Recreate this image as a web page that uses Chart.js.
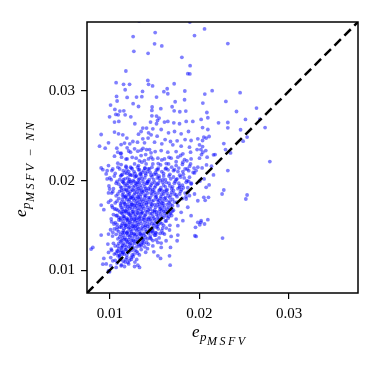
<!DOCTYPE html>
<html>
<head>
<meta charset="utf-8">
<script src="https://cdn.jsdelivr.net/npm/chart.js@4.4.1/dist/chart.umd.min.js"></script>
<style>
  html, body { margin: 0; padding: 0; background: #fff; }
  #wrap { width: 382px; height: 365px; }
</style>
</head>
<body>
<div id="wrap"><canvas id="scatter"></canvas></div>
<script>
// same limits on both axes, so the y = x reference runs corner to corner
const axisLimits = [0.00745, 0.0377];
const tickValues = [0.01, 0.02, 0.03];

// [e_p MSFV, e_p MSFV-NN] pairs
const upperTail = [
  [0.01327,0.0378],[0.01893,0.0377],[0.02057,0.03693],[0.01506,0.03652],[0.0126,0.03607],[0.01945,0.03618],
  [0.01499,0.03526],[0.0158,0.03503],[0.01268,0.03443],[0.01427,0.0342],[0.01804,0.03376],[0.01896,0.03283],
  [0.0187,0.03193],[0.01893,0.0319],[0.01179,0.03223],[0.01424,0.03118],[0.0107,0.03093],[0.01153,0.03074],
  [0.0122,0.03074],[0.01432,0.03074],[0.01477,0.03056],[0.0164,0.03025],[0.01603,0.02992],[0.01647,0.02969],
  [0.01718,0.03081],[0.01171,0.03014],[0.01837,0.03],[0.0206,0.02966],[0.02142,0.03003],[0.01008,0.02843],
  [0.01075,0.02939],[0.01081,0.02888],[0.01193,0.02928],[0.01298,0.02932],[0.01357,0.02936],[0.01365,0.02995],
  [0.01521,0.02932],[0.0126,0.02858],[0.0132,0.02827],[0.01472,0.02821],[0.01569,0.02802],[0.01695,0.02824],
  [0.01729,0.0288],[0.01834,0.02902],[0.02038,0.02865],[0.01056,0.02794],[0.01112,0.02776],[0.01156,0.02779],
  [0.00997,0.02712],[0.01067,0.02738],[0.01093,0.02734],[0.01234,0.02712],[0.01469,0.02723],[0.01521,0.0272],
  [0.0155,0.02698],[0.01532,0.02671],[0.01718,0.02779],[0.01781,0.02768],[0.01848,0.02776],[0.02083,0.0276],
  [0.02094,0.02701],[0.02213,0.02645],[0.00903,0.02514],[0.02317,0.03529],[0.02454,0.02981],[0.02295,0.02883],
  [0.02414,0.02771],[0.02637,0.02809],[0.02317,0.02648],[0.02317,0.02589],[0.02514,0.02682],[0.02674,0.02686],
  [0.02733,0.02592],[0.02035,0.02592],[0.02049,0.02485],[0.02035,0.02447],[0.02108,0.02492],[0.02459,0.02567],
  [0.02532,0.02485],[0.02488,0.0244],[0.02272,0.02413],[0.02291,0.02346],[0.02035,0.0238],[0.02071,0.02335],
  [0.02016,0.02346]
];

const midBand = [
  [0.01171,0.02734],[0.01052,0.02653],[0.011,0.0266],[0.01279,0.02634],[0.01368,0.02586],[0.0141,0.02586],
  [0.01349,0.02548],[0.0132,0.02518],[0.01432,0.02533],[0.01052,0.02541],[0.01097,0.02522],[0.01145,0.02511],
  [0.0119,0.02474],[0.01164,0.02418],[0.01126,0.02402],[0.01223,0.0241],[0.01257,0.02436],[0.01309,0.02429],
  [0.01368,0.02466],[0.01387,0.02421],[0.01427,0.02474],[0.00985,0.02421],[0.00885,0.02384],[0.00948,0.02362],
  [0.01078,0.02362],[0.01193,0.02365],[0.01276,0.02354],[0.01089,0.02317],[0.01126,0.02306],[0.01231,0.02317],
  [0.01312,0.02328],[0.01349,0.02339],[0.0141,0.02346],[0.01052,0.02272],[0.01131,0.02261],[0.01193,0.02242],
  [0.01294,0.0225],[0.01349,0.02279],[0.01387,0.02223],[0.01432,0.02242],[0.00903,0.02141],[0.00985,0.02167],
  [0.01033,0.0213],[0.01089,0.02194],[0.01126,0.02178],[0.01182,0.02149],[0.01231,0.02149],[0.01276,0.02186],
  [0.0132,0.02167],[0.01357,0.02205],[0.01405,0.02186],[0.01331,0.02122],[0.01394,0.02138],
  [0.01469,0.02783],[0.01454,0.02653],[0.01521,0.02634],[0.0161,0.02653],[0.01647,0.0266],[0.01714,0.02645],
  [0.01778,0.02634],[0.01852,0.0266],[0.01926,0.0266],[0.02019,0.02682],[0.0148,0.02578],[0.01573,0.0257],
  [0.01655,0.02533],[0.01722,0.02548],[0.01796,0.02522],[0.01878,0.02548],[0.02094,0.0257],[0.01461,0.02511],
  [0.01528,0.02496],[0.01617,0.02458],[0.01677,0.02436],[0.01751,0.02444],[0.0184,0.02458],[0.01907,0.02447],
  [0.01982,0.02466],[0.02075,0.02474],[0.01499,0.02429],[0.0158,0.0241],[0.01703,0.02399],[0.01796,0.02384],
  [0.01889,0.02373],[0.02001,0.02399],[0.01443,0.02346],[0.01506,0.02324],[0.01573,0.02335],[0.01647,0.02317],
  [0.0174,0.02324],[0.01815,0.02298],[0.01901,0.02317],[0.01974,0.02346],[0.02038,0.02317],[0.01461,0.02261],
  [0.01536,0.0225],[0.0161,0.02242],[0.01684,0.0225],[0.01759,0.02261],[0.01834,0.02234],[0.01907,0.02242],
  [0.02001,0.0225],[0.02086,0.02261],[0.0148,0.02186],[0.01566,0.02175],[0.01655,0.02186],[0.0174,0.02167],
  [0.01815,0.02205],[0.01901,0.02186],[0.01982,0.02149],[0.01443,0.0213],[0.01536,0.02122],[0.01628,0.02138],
  [0.01722,0.02122],[0.01863,0.0213],[0.01963,0.02111],[0.02023,0.0229],[0.02157,0.02287],[0.02175,0.0229],
  [0.02347,0.02309],[0.02079,0.02175],[0.02135,0.0216],[0.0203,0.02141],[0.02786,0.02212],[0.02317,0.02111]
];

const denseCore = [
  [0.0097,0.0211],[0.0106,0.0208],[0.0111,0.0213],[0.0113,0.0206],[0.0117,0.0209],[0.0119,0.0212],[0.0122,0.0207],
  [0.0124,0.0214],[0.0127,0.0210],[0.0129,0.0205],[0.0132,0.0212],[0.0134,0.0208],[0.0138,0.0211],[0.0140,0.0206],
  [0.0143,0.0213],[0.0145,0.0209],[0.0149,0.0207],[0.0152,0.0212],[0.0155,0.0205],[0.0158,0.0210],[0.0162,0.0213],
  [0.0167,0.0207],[0.0171,0.0211],[0.0178,0.0206],[0.0184,0.0213],[0.0193,0.0209],
  [0.0100,0.0203],[0.0108,0.0199],[0.0112,0.0205],[0.0115,0.0201],[0.0116,0.0197],[0.0120,0.0203],[0.0121,0.0199],
  [0.0123,0.0206],[0.0126,0.0200],[0.0128,0.0204],[0.0131,0.0198],[0.0133,0.0202],[0.0135,0.0205],[0.0137,0.0199],
  [0.0139,0.0203],[0.0142,0.0197],[0.0144,0.0201],[0.0147,0.0204],[0.0150,0.0198],[0.0153,0.0203],[0.0156,0.0200],
  [0.0160,0.0205],[0.0163,0.0198],[0.0168,0.0202],[0.0173,0.0199],[0.0179,0.0204],[0.0186,0.0200],[0.0191,0.0197],
  [0.0099,0.0194],[0.0104,0.0191],[0.0110,0.0196],[0.0113,0.0192],[0.0115,0.0198],[0.0118,0.0190],[0.0119,0.0195],
  [0.0122,0.0193],[0.0124,0.0197],[0.0125,0.0190],[0.0128,0.0194],[0.0130,0.0196],[0.0132,0.0191],[0.0134,0.0195],
  [0.0136,0.0189],[0.0139,0.0193],[0.0141,0.0197],[0.0143,0.0191],[0.0146,0.0195],[0.0148,0.0190],[0.0151,0.0194],
  [0.0154,0.0197],[0.0157,0.0192],[0.0160,0.0195],[0.0164,0.0190],[0.0167,0.0194],[0.0172,0.0197],[0.0176,0.0191],
  [0.0181,0.0195],[0.0187,0.0192],
  [0.0102,0.0186],[0.0107,0.0183],[0.0111,0.0188],[0.0114,0.0184],[0.0116,0.0190],[0.0117,0.0182],[0.0120,0.0187],
  [0.0122,0.0185],[0.0124,0.0181],[0.0126,0.0189],[0.0127,0.0184],[0.0130,0.0187],[0.0131,0.0182],[0.0133,0.0189],
  [0.0135,0.0185],[0.0138,0.0188],[0.0140,0.0183],[0.0142,0.0186],[0.0145,0.0190],[0.0147,0.0184],[0.0150,0.0187],
  [0.0152,0.0182],[0.0155,0.0189],[0.0158,0.0185],[0.0161,0.0188],[0.0165,0.0183],[0.0169,0.0187],[0.0174,0.0184],
  [0.0179,0.0188],[0.0185,0.0182],
  [0.0101,0.0178],[0.0106,0.0175],[0.0110,0.0180],[0.0113,0.0176],[0.0115,0.0182],[0.0117,0.0174],[0.0119,0.0179],
  [0.0121,0.0177],[0.0123,0.0181],[0.0125,0.0173],[0.0127,0.0178],[0.0129,0.0180],[0.0131,0.0175],[0.0133,0.0179],
  [0.0135,0.0173],[0.0137,0.0177],[0.0139,0.0181],[0.0141,0.0175],[0.0144,0.0179],[0.0146,0.0174],[0.0149,0.0178],
  [0.0151,0.0181],[0.0154,0.0176],[0.0157,0.0180],[0.0160,0.0174],[0.0163,0.0178],[0.0166,0.0175],[0.0170,0.0179],
  [0.0175,0.0176],[0.0181,0.0180],
  [0.0103,0.0170],[0.0109,0.0167],[0.0112,0.0172],[0.0114,0.0168],[0.0116,0.0174],[0.0118,0.0166],[0.0120,0.0171],
  [0.0122,0.0169],[0.0124,0.0173],[0.0126,0.0165],[0.0128,0.0170],[0.0130,0.0172],[0.0132,0.0167],[0.0134,0.0171],
  [0.0136,0.0165],[0.0138,0.0169],[0.0141,0.0173],[0.0143,0.0167],[0.0146,0.0171],[0.0148,0.0166],[0.0151,0.0170],
  [0.0153,0.0173],[0.0156,0.0168],[0.0159,0.0172],[0.0162,0.0166],[0.0166,0.0170],[0.0171,0.0167],[0.0176,0.0172],
  [0.0104,0.0162],[0.0110,0.0159],[0.0113,0.0164],[0.0115,0.0160],[0.0117,0.0166],[0.0119,0.0158],[0.0121,0.0163],
  [0.0123,0.0161],[0.0125,0.0165],[0.0127,0.0157],[0.0129,0.0162],[0.0131,0.0164],[0.0133,0.0159],[0.0135,0.0163],
  [0.0137,0.0157],[0.0139,0.0161],[0.0142,0.0165],[0.0144,0.0159],[0.0147,0.0163],[0.0149,0.0158],[0.0152,0.0162],
  [0.0155,0.0165],[0.0158,0.0160],[0.0161,0.0163],[0.0165,0.0158],[0.0169,0.0161],[0.0174,0.0157],
  [0.0102,0.0154],[0.0108,0.0151],[0.0112,0.0156],[0.0114,0.0152],[0.0116,0.0158],[0.0118,0.0150],[0.0120,0.0155],
  [0.0122,0.0153],[0.0124,0.0157],[0.0126,0.0149],[0.0128,0.0154],[0.0130,0.0156],[0.0132,0.0151],[0.0134,0.0155],
  [0.0137,0.0149],[0.0139,0.0153],[0.0141,0.0157],[0.0144,0.0151],[0.0146,0.0155],[0.0149,0.0150],[0.0152,0.0154],
  [0.0155,0.0157],[0.0158,0.0152],[0.0162,0.0155],[0.0167,0.0150],
  [0.0105,0.0146],[0.0110,0.0143],[0.0113,0.0148],[0.0115,0.0144],[0.0117,0.0150],[0.0119,0.0142],[0.0121,0.0147],
  [0.0123,0.0145],[0.0125,0.0149],[0.0127,0.0141],[0.0129,0.0146],[0.0131,0.0148],[0.0133,0.0143],[0.0135,0.0147],
  [0.0138,0.0141],[0.0140,0.0145],[0.0142,0.0149],[0.0145,0.0143],[0.0148,0.0147],[0.0151,0.0142],[0.0154,0.0146],
  [0.0158,0.0144],[0.0163,0.0147],
  [0.0103,0.0138],[0.0109,0.0135],[0.0112,0.0140],[0.0114,0.0136],[0.0116,0.0142],[0.0118,0.0134],[0.0120,0.0139],
  [0.0122,0.0137],[0.0124,0.0141],[0.0126,0.0133],[0.0128,0.0138],[0.0130,0.0140],[0.0133,0.0135],[0.0135,0.0139],
  [0.0137,0.0133],[0.0140,0.0137],[0.0143,0.0141],[0.0146,0.0135],[0.0150,0.0139],[0.0155,0.0136],
  [0.0104,0.0130],[0.0109,0.0127],[0.0112,0.0132],[0.0114,0.0128],[0.0116,0.0134],[0.0118,0.0126],[0.0120,0.0131],
  [0.0122,0.0129],[0.0124,0.0133],[0.0126,0.0125],[0.0128,0.0130],[0.0131,0.0132],[0.0133,0.0127],[0.0136,0.0131],
  [0.0139,0.0126],[0.0143,0.0129],[0.0148,0.0127],
  [0.0102,0.0122],[0.0107,0.0119],[0.0110,0.0124],[0.0112,0.0120],[0.0114,0.0126],[0.0116,0.0118],[0.0118,0.0123],
  [0.0120,0.0121],[0.0123,0.0125],[0.0125,0.0117],[0.0128,0.0122],[0.0131,0.0119],[0.0135,0.0123],[0.0140,0.0120],
  [0.0101,0.0114],[0.0106,0.0111],[0.0109,0.0116],[0.0112,0.0112],[0.0114,0.0118],[0.0117,0.0109],[0.0119,0.0114],
  [0.0122,0.0111],[0.0126,0.0115],[0.0130,0.0112],
  [0.0099,0.0099],[0.0101,0.0105],[0.0107,0.0103],[0.0113,0.0106],[0.0096,0.0107]
];

// second pass over the solid part of the cloud, between the points above
const denseFill = [
  [0.0109,0.0215],[0.0115,0.0211],[0.0118,0.0216],[0.0121,0.0210],[0.0125,0.0213],[0.0128,0.0208],[0.0131,0.0215],
  [0.0136,0.0209],[0.0139,0.0214],[0.0142,0.0210],[0.0147,0.0215],[0.0151,0.0209],[0.0154,0.0214],[0.0160,0.0208],
  [0.0165,0.0212],
  [0.0105,0.0205],[0.0111,0.0201],[0.0114,0.0207],[0.0117,0.0202],[0.0119,0.0208],[0.0122,0.0201],[0.0125,0.0206],
  [0.0127,0.0199],[0.0130,0.0205],[0.0132,0.0201],[0.0134,0.0207],[0.0136,0.0202],[0.0140,0.0208],[0.0143,0.0199],
  [0.0146,0.0206],[0.0149,0.0201],[0.0152,0.0207],[0.0155,0.0203],[0.0159,0.0201],[0.0166,0.0205],[0.0175,0.0202],
  [0.0107,0.0197],[0.0112,0.0193],[0.0114,0.0199],[0.0117,0.0194],[0.0120,0.0197],[0.0121,0.0192],[0.0123,0.0199],
  [0.0126,0.0193],[0.0129,0.0197],[0.0131,0.0193],[0.0133,0.0198],[0.0135,0.0192],[0.0138,0.0196],[0.0140,0.0191],
  [0.0142,0.0199],[0.0145,0.0193],[0.0147,0.0197],[0.0150,0.0192],[0.0153,0.0196],[0.0156,0.0190],[0.0159,0.0198],
  [0.0162,0.0193],[0.0169,0.0191],[0.0178,0.0194],
  [0.0109,0.0185],[0.0113,0.0189],[0.0115,0.0186],[0.0118,0.0183],[0.0119,0.0189],[0.0121,0.0184],[0.0123,0.0188],
  [0.0125,0.0182],[0.0128,0.0186],[0.0129,0.0190],[0.0132,0.0185],[0.0134,0.0182],[0.0136,0.0187],[0.0139,0.0184],
  [0.0141,0.0189],[0.0143,0.0181],[0.0146,0.0186],[0.0148,0.0188],[0.0151,0.0184],[0.0154,0.0186],[0.0157,0.0182],
  [0.0160,0.0185],[0.0163,0.0189],[0.0167,0.0181],[0.0172,0.0185],
  [0.0108,0.0177],[0.0112,0.0174],[0.0114,0.0179],[0.0116,0.0176],[0.0118,0.0181],[0.0120,0.0173],[0.0122,0.0179],
  [0.0124,0.0175],[0.0126,0.0180],[0.0128,0.0174],[0.0130,0.0177],[0.0132,0.0181],[0.0134,0.0176],[0.0136,0.0179],
  [0.0138,0.0174],[0.0140,0.0178],[0.0143,0.0176],[0.0145,0.0181],[0.0147,0.0177],[0.0150,0.0173],[0.0153,0.0179],
  [0.0156,0.0174],[0.0159,0.0177],[0.0162,0.0181],[0.0168,0.0173],
  [0.0107,0.0168],[0.0111,0.0165],[0.0113,0.0170],[0.0115,0.0166],[0.0117,0.0171],[0.0119,0.0168],[0.0121,0.0165],
  [0.0123,0.0171],[0.0125,0.0168],[0.0127,0.0172],[0.0129,0.0166],[0.0131,0.0169],[0.0133,0.0173],[0.0135,0.0168],
  [0.0137,0.0171],[0.0140,0.0166],[0.0142,0.0170],[0.0145,0.0168],[0.0147,0.0173],[0.0150,0.0167],[0.0152,0.0165],
  [0.0155,0.0171],[0.0158,0.0167],[0.0161,0.0170],[0.0168,0.0164],
  [0.0108,0.0161],[0.0112,0.0158],[0.0114,0.0163],[0.0116,0.0160],[0.0118,0.0164],[0.0120,0.0157],[0.0122,0.0162],
  [0.0124,0.0159],[0.0126,0.0163],[0.0128,0.0160],[0.0130,0.0158],[0.0132,0.0163],[0.0134,0.0160],[0.0136,0.0164],
  [0.0138,0.0159],[0.0140,0.0162],[0.0143,0.0157],[0.0145,0.0163],[0.0148,0.0160],[0.0150,0.0165],[0.0153,0.0158],
  [0.0157,0.0163],[0.0163,0.0161],
  [0.0106,0.0153],[0.0110,0.0156],[0.0113,0.0150],[0.0115,0.0155],[0.0117,0.0152],[0.0119,0.0156],[0.0121,0.0151],
  [0.0123,0.0155],[0.0125,0.0152],[0.0127,0.0156],[0.0129,0.0150],[0.0131,0.0153],[0.0133,0.0157],[0.0135,0.0152],
  [0.0138,0.0156],[0.0140,0.0150],[0.0142,0.0154],[0.0145,0.0157],[0.0147,0.0152],[0.0150,0.0156],[0.0154,0.0151],
  [0.0160,0.0150],
  [0.0108,0.0145],[0.0111,0.0148],[0.0114,0.0142],[0.0116,0.0146],[0.0118,0.0148],[0.0120,0.0143],[0.0122,0.0148],
  [0.0124,0.0143],[0.0126,0.0146],[0.0128,0.0149],[0.0130,0.0144],[0.0132,0.0146],[0.0134,0.0141],[0.0136,0.0145],
  [0.0139,0.0148],[0.0141,0.0143],[0.0144,0.0147],[0.0147,0.0144],[0.0152,0.0148],[0.0156,0.0141],
  [0.0107,0.0140],[0.0111,0.0137],[0.0113,0.0133],[0.0115,0.0139],[0.0117,0.0136],[0.0119,0.0141],[0.0121,0.0134],
  [0.0123,0.0139],[0.0125,0.0136],[0.0127,0.0140],[0.0129,0.0134],[0.0131,0.0137],[0.0134,0.0140],[0.0136,0.0136],
  [0.0138,0.0139],[0.0142,0.0135],[0.0145,0.0138],[0.0148,0.0133],
  [0.0106,0.0127],[0.0110,0.0130],[0.0113,0.0125],[0.0115,0.0130],[0.0117,0.0128],[0.0119,0.0132],[0.0121,0.0126],
  [0.0123,0.0130],[0.0125,0.0128],[0.0127,0.0132],[0.0130,0.0126],[0.0132,0.0129],[0.0135,0.0127],[0.0138,0.0130],
  [0.0142,0.0124],
  [0.0105,0.0118],[0.0109,0.0121],[0.0111,0.0116],[0.0113,0.0122],[0.0115,0.0120],[0.0117,0.0123],[0.0119,0.0117],
  [0.0121,0.0120],[0.0124,0.0122],[0.0127,0.0118],[0.0130,0.0121],[0.0133,0.0117],
  [0.0108,0.0108],[0.0111,0.0113],[0.0115,0.0110],[0.0118,0.0112],[0.0121,0.0107],[0.0124,0.0112],[0.0128,0.0109]
];

// right flank of the cloud, reaching out to the dashed line
const rightFlank = [
  [0.0163,0.0219],[0.0169,0.0215],[0.0174,0.0221],[0.0177,0.0214],[0.0181,0.0218],[0.0186,0.0222],[0.0189,0.0216],
  [0.0171,0.0204],[0.0176,0.0210],[0.0182,0.0207],[0.0188,0.0211],[0.0194,0.0214],[0.0158,0.0223],[0.0166,0.0226],
  [0.0179,0.0228],[0.0154,0.0219],[0.0148,0.0224],[0.0140,0.0229],[0.0133,0.0222],[0.0125,0.0226],[0.0118,0.0224],
  [0.0112,0.0230],[0.0121,0.0233],[0.0137,0.0236],[0.0146,0.0231],
  [0.0162,0.0201],[0.0166,0.0197],[0.0170,0.0193],[0.0174,0.0201],[0.0177,0.0197],[0.0180,0.0190],[0.0183,0.0203],
  [0.0184,0.0186],[0.0188,0.0199],[0.0164,0.0186],[0.0171,0.0189],[0.0175,0.0182],[0.0178,0.0185],[0.0182,0.0192],
  [0.0158,0.0189],[0.0168,0.0184],[0.0187,0.0187],
  [0.0155,0.0178],[0.0158,0.0175],[0.0161,0.0180],[0.0164,0.0173],[0.0167,0.0177],[0.0170,0.0172],[0.0172,0.0176],
  [0.0157,0.0169],[0.0160,0.0166],[0.0164,0.0168],[0.0167,0.0163],[0.0170,0.0166],[0.0154,0.0161],[0.0157,0.0157],
  [0.0160,0.0159],[0.0163,0.0155],[0.0166,0.0160],[0.0150,0.0152],[0.0153,0.0149],[0.0156,0.0153],[0.0159,0.0147],
  [0.0148,0.0144],[0.0151,0.0139],[0.0145,0.0136],[0.0141,0.0131],[0.0138,0.0134],[0.0135,0.0129]
];

const leftEdge = [
  [0.00922,0.02122],[0.00959,0.02074],[0.01022,0.02111],[0.0097,0.02018],[0.01015,0.0201],[0.00997,0.01906],
  [0.01033,0.01876],[0.00985,0.01862],[0.00903,0.01727],[0.00933,0.01675],[0.00985,0.01758],[0.01022,0.0172],
  [0.01052,0.01683],[0.0107,0.01608],[0.01015,0.01571],[0.01045,0.01515],[0.01081,0.01478],[0.01008,0.01451]
];

const lowerLeft = [
  [0.00985,0.00992],[0.00997,0.00981],[0.00933,0.01131],[0.00922,0.01067],[0.01033,0.01104],[0.00791,0.01235],
  [0.0081,0.01254],[0.01126,0.01048],[0.01164,0.01041],[0.01201,0.01086],[0.01276,0.01041],[0.01312,0.01056],
  [0.01331,0.0103],[0.01238,0.01142],[0.01108,0.01168],[0.01145,0.01198],[0.01081,0.01216],[0.00985,0.01198],
  [0.01015,0.01235],[0.00903,0.01392],[0.00985,0.01403],[0.01033,0.01422],[0.00978,0.01291]
];

const belowDiagonal = [
  [0.02108,0.01951],[0.02157,0.02063],[0.02272,0.01895],[0.02253,0.0185],[0.02532,0.01839],[0.02518,0.01794],
  [0.02049,0.01813],[0.02064,0.0178],[0.02094,0.01563],[0.02016,0.01534],[0.02004,0.01507],[0.02258,0.01358],
  [0.02052,0.02018],[0.02004,0.01993],[0.01949,0.01384],[0.01956,0.01478],[0.01673,0.01056],
  [0.01852,0.01794],[0.01889,0.01831],[0.01945,0.0185],[0.01982,0.01775],[0.0187,0.01702],[0.01796,0.01646],
  [0.01907,0.01608],[0.01982,0.01534],[0.02019,0.01552],[0.02057,0.01515],[0.01815,0.01552],[0.01759,0.01496],
  [0.02075,0.01925],[0.02101,0.01813],[0.01815,0.021],[0.01889,0.02037],[0.01945,0.02085],[0.01852,0.01981],
  [0.01778,0.01925],[0.01907,0.01962],
  [0.01443,0.0144],[0.0148,0.01414],[0.01517,0.01414],[0.01591,0.01414],[0.0161,0.01403],[0.01666,0.01448],
  [0.01759,0.01392],[0.01684,0.01377],[0.01628,0.01328],[0.01536,0.0131],[0.01573,0.01302],[0.01573,0.01254],
  [0.01517,0.01339],[0.01491,0.01205],[0.01536,0.0116],[0.01566,0.01131],[0.01677,0.01254],[0.01666,0.0116],
  [0.01751,0.01328],[0.01963,0.01377]
];

const allPairs = [].concat(upperTail, midBand, denseCore, denseFill, rightFlank, leftEdge, lowerLeft, belowDiagonal);

const serif = '"Liberation Serif", "DejaVu Serif", serif';

// axis labels: e with nested subscripts, drawn as text
function drawSubscripted(ctx, x, y, parts) {
  const sizes = [17, 13, 12];
  const drops = [0, 4, 8];
  const spacing = ['0px', '0px', '2.5px'];
  parts.forEach((t, i) => {
    ctx.font = `italic ${sizes[i]}px ${serif}`;
    ctx.letterSpacing = spacing[i];
    ctx.fillText(t, x, y + drops[i]);
    x += ctx.measureText(t).width + 0.5;
  });
  ctx.letterSpacing = '0px';
}

const framePlugin = {
  id: 'frame',
  afterDraw(chart) {
    const { ctx, chartArea: a } = chart;
    ctx.save();
    ctx.strokeStyle = '#000';
    ctx.lineWidth = 1.5;
    ctx.strokeRect(a.left, a.top, a.right - a.left, a.bottom - a.top);
    ctx.fillStyle = '#000';
    ctx.textBaseline = 'alphabetic';
    drawSubscripted(ctx, 192, 337, ['e', 'p', 'MSFV']);
    ctx.translate(26, 217);
    ctx.rotate(-Math.PI / 2);
    drawSubscripted(ctx, 0, 0, ['e', 'p', 'MSFV\u2009\u2212\u2009NN']);
    ctx.restore();
  }
};

function axisOptions(fit) {
  return {
    type: 'linear',
    min: axisLimits[0],
    max: axisLimits[1],
    afterBuildTicks: s => { s.ticks = tickValues.map(v => ({ value: v })); },
    afterFit: fit,
    ticks: {
      color: '#000',
      padding: 6,
      font: { family: serif, size: 15 },
      callback: v => v.toFixed(2)
    },
    grid: { drawOnChartArea: false, drawTicks: true, tickLength: 6, color: '#000', lineWidth: 1.2 },
    border: { display: false }
  };
}

new Chart(document.getElementById('scatter'), {
  type: 'scatter',
  data: {
    datasets: [
      {
        data: axisLimits.map(v => ({ x: v, y: v })),
        showLine: true,
        borderColor: '#000',
        borderWidth: 2.5,
        borderDash: [9, 5],
        pointRadius: 0,
        order: 0
      },
      {
        data: allPairs.map(p => ({ x: p[0], y: p[1] })),
        backgroundColor: 'rgba(0, 0, 255, 0.5)',
        borderWidth: 0,
        pointRadius: 1.9,
        order: 1
      }
    ]
  },
  plugins: [framePlugin],
  options: {
    responsive: true,
    maintainAspectRatio: false,
    animation: false,
    layout: { padding: { top: 22, right: 24, left: 0, bottom: 0 } },
    plugins: { legend: { display: false }, tooltip: { enabled: false } },
    scales: {
      x: axisOptions(s => { s.height = 72; }),
      y: axisOptions(s => { s.width = 87; })
    }
  }
});
</script>
</body>
</html>
